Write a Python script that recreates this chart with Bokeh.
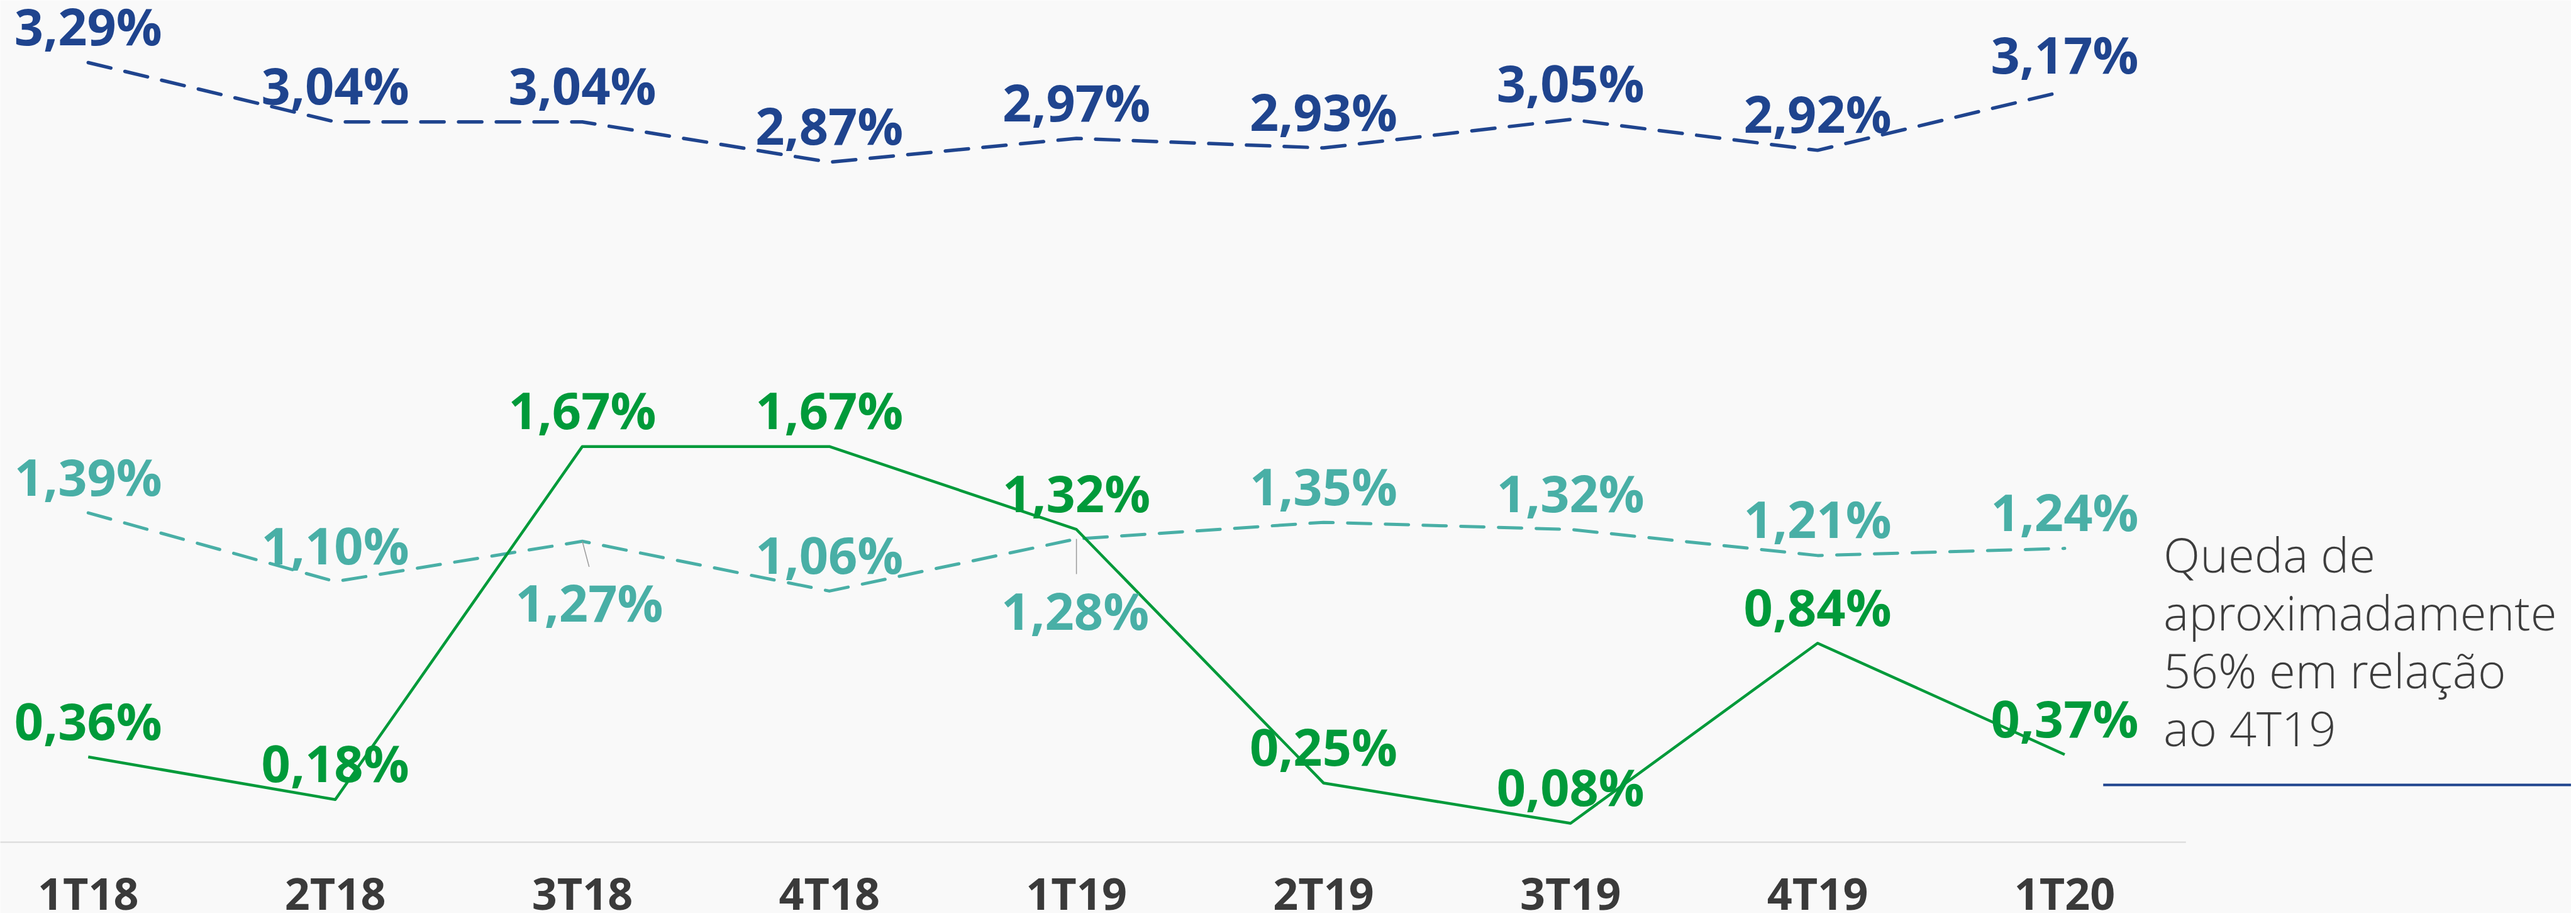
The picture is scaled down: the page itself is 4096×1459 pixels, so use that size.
from bokeh.plotting import figure
from bokeh.models import Range1d
from bokeh.core.properties import value
from bokeh.embed import file_html
from bokeh.resources import INLINE

# ---------------- data ----------------
quarters = ["1T18", "2T18", "3T18", "4T18", "1T19", "2T19", "3T19", "4T19", "1T20"]
blue_vals = [3.29, 3.04, 3.04, 2.87, 2.97, 2.93, 3.05, 2.92, 3.17]
teal_vals = [1.39, 1.10, 1.27, 1.06, 1.28, 1.35, 1.32, 1.21, 1.24]
green_vals = [0.36, 0.18, 1.67, 1.67, 1.32, 0.25, 0.08, 0.84, 0.37]
note_lines = ["Queda de", "aproximadamente", "56% em relação", "ao 4T19"]

# ---------------- styles / geometry ----------------
BLUE = "#1F448E"
TEAL = "#49AFA6"
GREEN = "#009A3A"
BG = "#f9f9f9"
AXIS_TXT = "#3a3a3a"
NOTE_TXT = "#3d3d3d"

W, H = 4088, 1451
S = 0.901                      # drawing scale
PX_X0, PX_DX = 164, 436        # layout grid (reference pixels)
PX_Y0, PX_DY = 1494, 418


def rx(px):
    return (px - PX_X0) / PX_DX


def ry(py):
    return (PX_Y0 - py) / PX_DY


def fmt(v):
    return ("%.2f" % v).replace(".", ",") + "%"


idx = list(range(len(quarters)))

p = figure(width=W, height=H,
           x_range=Range1d(rx(8 / S), rx((W + 8) / S)),
           y_range=Range1d(ry((H + 8) / S), ry(8 / S)),
           output_backend="svg", toolbar_location=None,
           x_axis_location=None, y_axis_location=None,
           min_border=0, background_fill_color=BG, border_fill_color=BG,
           outline_line_color=None)
p.grid.visible = False

# baseline at zero
p.segment(x0=[rx(0)], y0=[0], x1=[rx(3866)], y1=[0],
          line_color="#d9d9d9", line_width=2)

# series lines
p.line(idx, blue_vals, line_color=BLUE, line_width=5.5, line_dash="37 23",
       line_cap="round", line_join="round")
p.line(idx, teal_vals, line_color=TEAL, line_width=5, line_dash="37 23",
       line_cap="round", line_join="round")
p.line(idx, green_vals, line_color=GREEN, line_width=4.5, line_join="round")

LBL = dict(text_align="center", text_baseline="alphabetic",
           text_font=value("Open Sans"), text_font_style="bold",
           text_font_size="81px")
UP = -59

# blue and green labels (above points)
p.text(idx, blue_vals, text=[fmt(v) for v in blue_vals], text_color=BLUE,
       y_offset=UP, **LBL)
p.text(idx, green_vals, text=[fmt(v) for v in green_vals], text_color=GREEN,
       y_offset=UP, **LBL)

# teal labels: most above, two below with leader lines
teal_below = {"3T18": (11, 96, 12, 45), "1T19": (-2, 113, 0, 62)}
ab = [i for i in idx if quarters[i] not in teal_below]
p.text([idx[i] for i in ab], [teal_vals[i] for i in ab],
       text=[fmt(teal_vals[i]) for i in ab], text_color=TEAL,
       y_offset=UP, **LBL)
for q, (dx, dy, lx, ly) in teal_below.items():
    i = quarters.index(q)
    p.segment(x0=[idx[i]], y0=[teal_vals[i]],
              x1=[idx[i] + lx / PX_DX], y1=[teal_vals[i] - ly / PX_DY],
              line_color="#9a9a9a", line_width=1.5)
    p.text([idx[i]], [teal_vals[i]], text=[fmt(teal_vals[i])], text_color=TEAL,
           x_offset=dx, y_offset=dy, **LBL)

# category labels
p.text(idx, [0] * len(idx), text=quarters, text_color=AXIS_TXT,
       text_align="center", text_baseline="alphabetic",
       text_font=value("Open Sans"), text_font_style="bold",
       text_font_size="70px", y_offset=80)

# note
note_base = [1012, 1114, 1216, 1318]
p.text([rx(3822)] * len(note_lines), [ry(b) for b in note_base], text=note_lines,
       text_color=NOTE_TXT, text_align="left", text_baseline="alphabetic",
       text_font=value("'Open Sans Light', 'Open Sans'"), text_font_size="76px",
       x_offset=4, y_offset=-24)
p.segment(x0=[rx(3720)], y0=[ry(1393)], x1=[rx(4600)], y1=[ry(1393)],
          line_color=BLUE, line_width=4)

open("out.html", "w").write(file_html(p, INLINE))
